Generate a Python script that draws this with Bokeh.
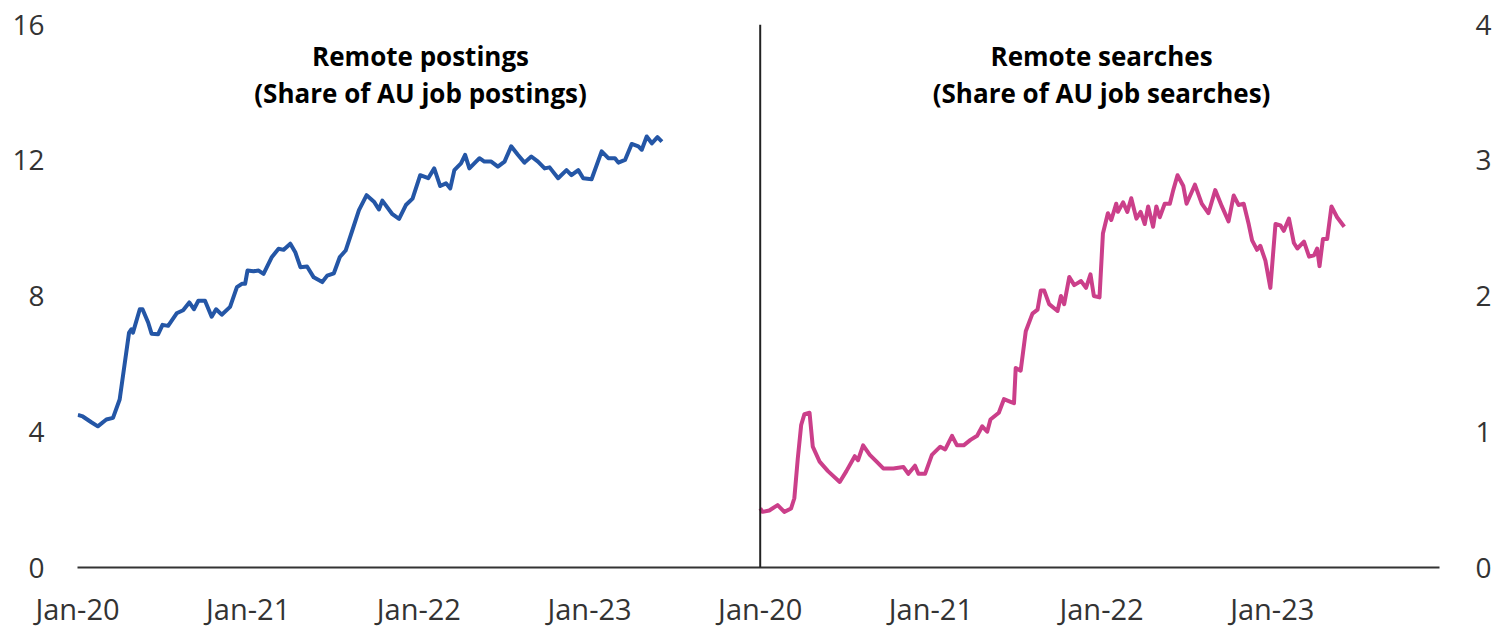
from bokeh.plotting import figure
from bokeh.models import FixedTicker, Label, Range1d, LinearAxis, Span
from bokeh.embed import file_html
from bokeh.resources import INLINE

# ---------------- data ----------------
postings_t = [2020.002, 2020.031, 2020.081, 2020.119, 2020.169, 2020.208, 2020.247, 2020.276, 2020.302, 2020.316,
              2020.325, 2020.365, 2020.381, 2020.414, 2020.434, 2020.472, 2020.498, 2020.531, 2020.581, 2020.619,
              2020.655, 2020.682, 2020.708, 2020.747, 2020.786, 2020.812, 2020.845, 2020.894, 2020.934, 2020.963,
              2020.982, 2020.996, 2021.031, 2021.061, 2021.090, 2021.139, 2021.178, 2021.208, 2021.247, 2021.276,
              2021.306, 2021.345, 2021.384, 2021.434, 2021.463, 2021.502, 2021.537, 2021.571, 2021.610, 2021.649,
              2021.694, 2021.737, 2021.766, 2021.786, 2021.845, 2021.884, 2021.924, 2021.963, 2022.008, 2022.055,
              2022.090, 2022.125, 2022.159, 2022.184, 2022.208, 2022.247, 2022.271, 2022.296, 2022.335, 2022.355,
              2022.384, 2022.424, 2022.463, 2022.502, 2022.541, 2022.580, 2022.619, 2022.659, 2022.698, 2022.737,
              2022.766, 2022.816, 2022.865, 2022.894, 2022.934, 2022.963, 2023.012, 2023.071, 2023.110, 2023.149,
              2023.169, 2023.208, 2023.247, 2023.286, 2023.306, 2023.335, 2023.365, 2023.398, 2023.424]
postings_share = [4.50, 4.45, 4.28, 4.16, 4.36, 4.41, 4.95, 5.99, 6.92, 7.02,
                  6.92, 7.61, 7.61, 7.22, 6.89, 6.87, 7.15, 7.12, 7.49, 7.58,
                  7.81, 7.61, 7.86, 7.86, 7.39, 7.61, 7.45, 7.68, 8.26, 8.36,
                  8.36, 8.75, 8.73, 8.75, 8.65, 9.15, 9.39, 9.36, 9.54, 9.29,
                  8.85, 8.87, 8.55, 8.41, 8.60, 8.67, 9.15, 9.34, 9.93, 10.53,
                  10.97, 10.78, 10.55, 10.81, 10.41, 10.27, 10.68, 10.87, 11.56, 11.47,
                  11.76, 11.24, 11.32, 11.17, 11.71, 11.91, 12.16, 11.76, 11.96, 12.06,
                  11.96, 11.96, 11.81, 11.96, 12.41, 12.16, 11.93, 12.11, 11.96, 11.76,
                  11.79, 11.47, 11.71, 11.56, 11.71, 11.47, 11.44, 12.26, 12.06, 12.06,
                  11.93, 12.01, 12.48, 12.41, 12.31, 12.70, 12.50, 12.68, 12.55]

searches_t = [2020.000, 2020.014, 2020.053, 2020.102, 2020.141, 2020.181, 2020.200, 2020.220, 2020.240, 2020.259,
              2020.289, 2020.308, 2020.348, 2020.397, 2020.466, 2020.505, 2020.554, 2020.573, 2020.603, 2020.642,
              2020.682, 2020.721, 2020.780, 2020.839, 2020.868, 2020.907, 2020.927, 2020.966, 2021.006, 2021.055,
              2021.084, 2021.124, 2021.153, 2021.192, 2021.232, 2021.271, 2021.301, 2021.330, 2021.349, 2021.398,
              2021.428, 2021.467, 2021.487, 2021.497, 2021.526, 2021.556, 2021.595, 2021.625, 2021.644, 2021.664,
              2021.693, 2021.742, 2021.762, 2021.781, 2021.811, 2021.840, 2021.880, 2021.909, 2021.935, 2021.955,
              2021.988, 2022.008, 2022.037, 2022.057, 2022.086, 2022.096, 2022.126, 2022.151, 2022.174, 2022.204,
              2022.229, 2022.253, 2022.273, 2022.302, 2022.321, 2022.341, 2022.370, 2022.400, 2022.420, 2022.445,
              2022.479, 2022.498, 2022.547, 2022.587, 2022.626, 2022.666, 2022.705, 2022.744, 2022.774, 2022.803,
              2022.833, 2022.862, 2022.882, 2022.911, 2022.930, 2022.960, 2022.989, 2023.019, 2023.048, 2023.068,
              2023.098, 2023.127, 2023.147, 2023.186, 2023.216, 2023.245, 2023.263, 2023.277, 2023.297, 2023.322,
              2023.347, 2023.380, 2023.422]
searches_share = [0.435, 0.41, 0.42, 0.46, 0.41, 0.435, 0.51, 0.80, 1.05, 1.13,
                  1.14, 0.89, 0.78, 0.71, 0.63, 0.71, 0.82, 0.79, 0.90, 0.83,
                  0.78, 0.73, 0.73, 0.74, 0.69, 0.75, 0.69, 0.69, 0.83, 0.89,
                  0.87, 0.97, 0.90, 0.90, 0.94, 0.97, 1.04, 1.00, 1.09, 1.14,
                  1.24, 1.22, 1.21, 1.47, 1.45, 1.74, 1.87, 1.90, 2.04, 2.04,
                  1.94, 1.89, 2.00, 1.94, 2.14, 2.08, 2.11, 2.06, 2.16, 2.00,
                  1.99, 2.46, 2.61, 2.56, 2.68, 2.62, 2.69, 2.62, 2.72, 2.57,
                  2.62, 2.53, 2.66, 2.51, 2.66, 2.58, 2.68, 2.68, 2.78, 2.89,
                  2.81, 2.68, 2.82, 2.68, 2.61, 2.78, 2.66, 2.55, 2.74, 2.67,
                  2.68, 2.53, 2.41, 2.34, 2.37, 2.26, 2.06, 2.53, 2.52, 2.48,
                  2.57, 2.39, 2.35, 2.40, 2.29, 2.30, 2.35, 2.22, 2.42, 2.42,
                  2.66, 2.58, 2.51]

x_tick_years = [2020, 2021, 2022, 2023]
x_tick_labels = ["Jan-20", "Jan-21", "Jan-22", "Jan-23"]
left_y_ticks = [0, 4, 8, 12, 16]
right_y_ticks = [0, 1, 2, 3, 4]
left_title = ["Remote postings", "(Share of AU job postings)"]
right_title = ["Remote searches", "(Share of AU job searches)"]

# ---------------- layout / styling ----------------
FONT = "Open Sans"
TICK_COLOR = "#333333"
AXIS_COLOR = "#333333"
BLUE = "#2456a6"
PINK = "#cb3f8a"
W, H = 1494, 630
PANEL_SPAN = 4          # years shown in the left panel before the right panel starts
TOTAL_SPAN = 7.98       # years across the whole frame (both panels)

p = figure(width=W, height=H, output_backend="svg", toolbar_location=None,
           x_range=Range1d(2020, 2020 + TOTAL_SPAN), y_range=Range1d(0, 16),
           min_border_left=77, min_border_right=46, min_border_top=24, min_border_bottom=62)
p.extra_x_ranges = {"searches": Range1d(2020 - PANEL_SPAN, 2020 + TOTAL_SPAN - PANEL_SPAN)}
p.extra_y_ranges = {"searches": Range1d(0, 4)}
p.outline_line_color = None
p.grid.grid_line_color = None
p.background_fill_color = "white"
p.border_fill_color = "white"

# x axis: one baseline, ticks for both panels
xa = p.xaxis[0]
tick_pos = x_tick_years + [y + PANEL_SPAN for y in x_tick_years]
overrides = {}
for y, lab in zip(x_tick_years, x_tick_labels):
    overrides[y] = lab
    overrides[y + PANEL_SPAN] = lab
xa.ticker = FixedTicker(ticks=tick_pos)
xa.major_label_overrides = overrides
xa.major_tick_line_color = None
xa.minor_tick_line_color = None
xa.axis_line_color = AXIS_COLOR
xa.axis_line_width = 2
xa.major_label_standoff = 15
xa.major_label_text_font = FONT
xa.major_label_text_font_size = "29px"
xa.major_label_text_color = TICK_COLOR

# left y axis (postings)
ya = p.yaxis[0]
ya.ticker = FixedTicker(ticks=left_y_ticks)
ya.major_tick_line_color = None
ya.minor_tick_line_color = None
ya.axis_line_color = None
ya.major_label_standoff = 27
ya.major_label_text_font = FONT
ya.major_label_text_font_size = "28px"
ya.major_label_text_color = TICK_COLOR

# right y axis (searches)
ry = LinearAxis(y_range_name="searches", ticker=FixedTicker(ticks=right_y_ticks),
                major_tick_line_color=None, minor_tick_line_color=None, axis_line_color=None,
                major_label_standoff=30, major_label_text_font=FONT,
                major_label_text_font_size="28px", major_label_text_color=TICK_COLOR)
p.add_layout(ry, "right")

# divider between panels
p.add_layout(Span(location=2020 + PANEL_SPAN, dimension="height",
                  line_color="#222222", line_width=2))

p.line(postings_t, postings_share, line_color=BLUE, line_width=4, line_join="round")
p.line(searches_t, searches_share, x_range_name="searches", y_range_name="searches",
       line_color=PINK, line_width=4, line_join="round")

for txt, yv in zip(left_title, [15.08, 13.98]):
    p.add_layout(Label(x=2022.01, y=yv, text=txt, text_align="center", text_baseline="middle",
                       text_font=FONT, text_font_size="26px", text_font_style="bold",
                       text_color="black"))
for txt, yv in zip(right_title, [3.77, 3.495]):
    p.add_layout(Label(x=2022.0, y=yv, x_range_name="searches", y_range_name="searches",
                       text=txt, text_align="center", text_baseline="middle",
                       text_font=FONT, text_font_size="26px", text_font_style="bold",
                       text_color="black"))

open("out.html", "w").write(file_html(p, INLINE))
